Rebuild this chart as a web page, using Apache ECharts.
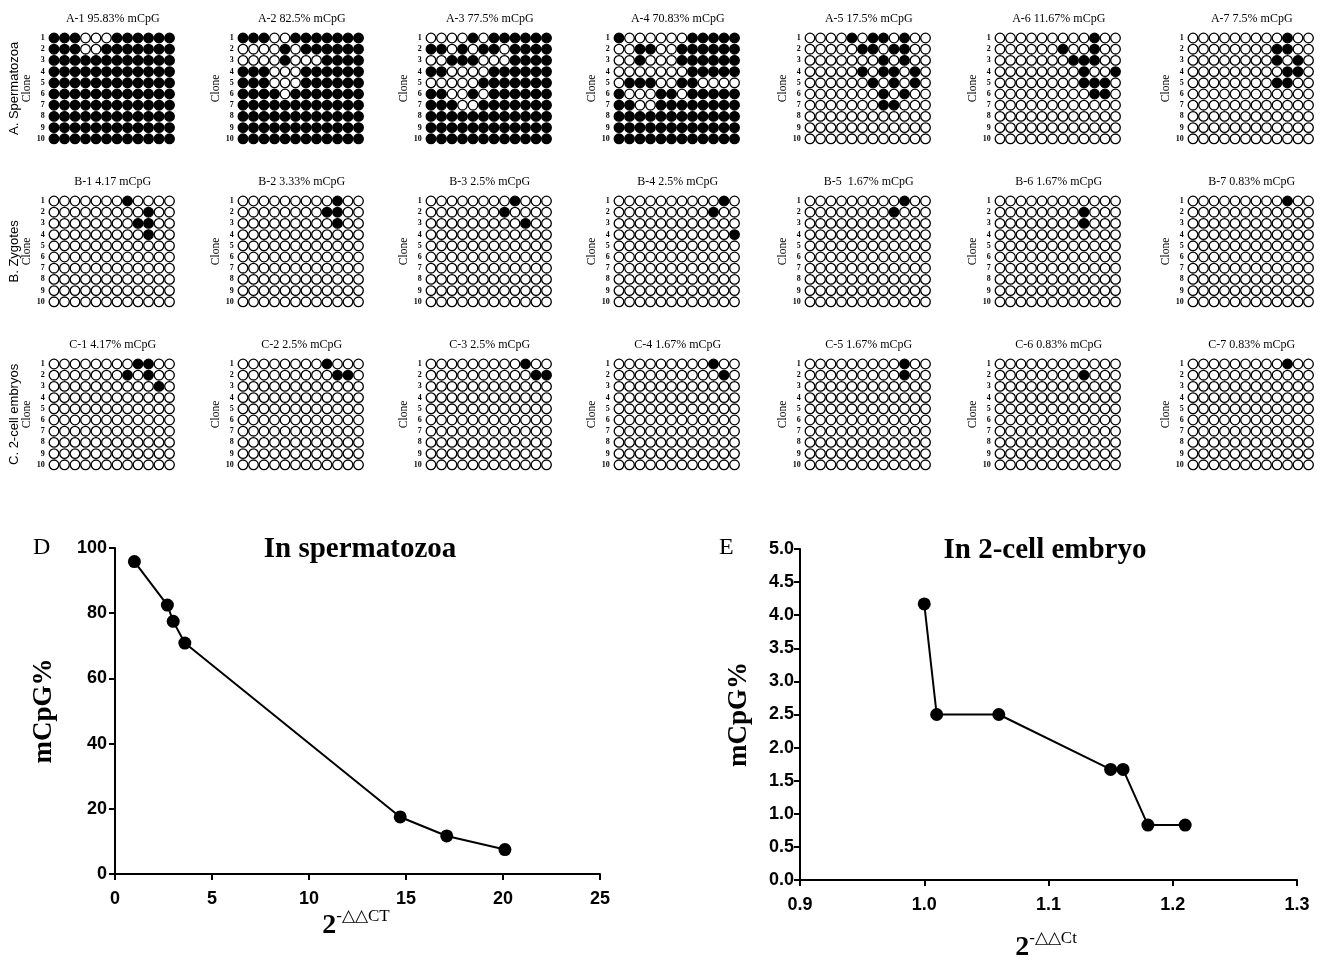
<!DOCTYPE html>
<html><head><meta charset="utf-8">
<script src="https://cdn.jsdelivr.net/npm/echarts@6/dist/echarts.min.js"></script>
<style>html,body{margin:0;background:#fff}#c{width:1323px;height:966px}</style>
</head><body><div id="c"></div><script>
// ---------- data ----------
const groupLabels = ['A. Spermatozoa', 'B. Zygotes', 'C. 2-cell embryos'];
const titlesA = ['A-1 95.83% mCpG','A-2 82.5% mCpG','A-3 77.5% mCpG','A-4 70.83% mCpG','A-5 17.5% mCpG','A-6 11.67% mCpG','A-7 7.5% mCpG'];
const titlesB = ['B-1 4.17 mCpG','B-2 3.33% mCpG','B-3 2.5% mCpG','B-4 2.5% mCpG','B-5  1.67% mCpG','B-6 1.67% mCpG','B-7 0.83% mCpG'];
const titlesC = ['C-1 4.17% mCpG','C-2 2.5% mCpG','C-3 2.5% mCpG','C-4 1.67% mCpG','C-5 1.67% mCpG','C-6 0.83% mCpG','C-7 0.83% mCpG'];
const clones = ['1','2','3','4','5','6','7','8','9','10'];
const cpgSites = ['1','2','3','4','5','6','7','8','9','10','11','12'];
// 1 = methylated (filled), 0 = unmethylated (open); rows = clones 1..10
const methA = [
 "111000111111 111001111111 111111111111 111111111111 111111111111 111111111111 111111111111 111111111111 111111111111 111111111111",
 "111001111111 000010111111 000010001111 111000111111 111000111111 111101111111 111111111111 111111111111 111111111111 111111111111",
 "000010111111 110101101111 001110001111 110000111111 000001111111 110010111111 111001111111 111111111111 111111111111 111111111111",
 "100000011111 001100111111 001000111111 000000011111 011100110000 100011011111 110011111111 111111111111 111111111111 111111111111",
 "000010110100 000001101100 000000010100 000001011010 000000101010 000000010100 000000011000 000000000000 000000000000 000000000000",
 "000000000100 000000100100 000000011100 000000001001 000000001110 000000000110 000000000000 000000000000 000000000000 000000000000",
 "000000000100 000000001100 000000001010 000000000110 000000001100 000000000000 000000000000 000000000000 000000000000 000000000000"
];
const methB = [
 "000000010000 000000000100 000000001100 000000000100 000000000000 000000000000 000000000000 000000000000 000000000000 000000000000",
 "000000000100 000000001100 000000000100 000000000000 000000000000 000000000000 000000000000 000000000000 000000000000 000000000000",
 "000000001000 000000010000 000000000100 000000000000 000000000000 000000000000 000000000000 000000000000 000000000000 000000000000",
 "000000000010 000000000100 000000000000 000000000001 000000000000 000000000000 000000000000 000000000000 000000000000 000000000000",
 "000000000100 000000001000 000000000000 000000000000 000000000000 000000000000 000000000000 000000000000 000000000000 000000000000",
 "000000000000 000000001000 000000001000 000000000000 000000000000 000000000000 000000000000 000000000000 000000000000 000000000000",
 "000000000100 000000000000 000000000000 000000000000 000000000000 000000000000 000000000000 000000000000 000000000000 000000000000"
];
const methC = [
 "000000001100 000000010100 000000000010 000000000000 000000000000 000000000000 000000000000 000000000000 000000000000 000000000000",
 "000000001000 000000000110 000000000000 000000000000 000000000000 000000000000 000000000000 000000000000 000000000000 000000000000",
 "000000000100 000000000011 000000000000 000000000000 000000000000 000000000000 000000000000 000000000000 000000000000 000000000000",
 "000000000100 000000000010 000000000000 000000000000 000000000000 000000000000 000000000000 000000000000 000000000000 000000000000",
 "000000000100 000000000100 000000000000 000000000000 000000000000 000000000000 000000000000 000000000000 000000000000 000000000000",
 "000000000000 000000001000 000000000000 000000000000 000000000000 000000000000 000000000000 000000000000 000000000000 000000000000",
 "000000000100 000000000000 000000000000 000000000000 000000000000 000000000000 000000000000 000000000000 000000000000 000000000000"
];
const spermX = [1.0, 2.7, 3.0, 3.6, 14.7, 17.1, 20.1];
const spermY = [95.83, 82.5, 77.5, 70.83, 17.5, 11.67, 7.5];
const embryoX = [1.00, 1.01, 1.06, 1.15, 1.16, 1.18, 1.21];
const embryoY = [4.17, 2.5, 2.5, 1.67, 1.67, 0.83, 0.83];
const spermXTicks = {min: 0, max: 25, interval: 5};
const spermYTicks = {min: 0, max: 100, interval: 20};
const embryoXTicks = {min: 0.9, max: 1.3, interval: 0.1};
const embryoYTicks = {min: 0, max: 5, interval: 0.5};

// ---------- layout ----------
const colX = [54, 243, 431, 619, 810, 1000, 1193]; // first circle centre
const rowY = [38, 201, 364];                        // first clone row centre
const pX = 10.5, pY = 11.2;
const serif = '"Liberation Serif","Times New Roman",serif';
const sans = '"Liberation Sans",Arial,sans-serif';

const grids = [], xAxes = [], yAxes = [], series = [], titles = [], graphics = [];
const groups = [[titlesA, methA], [titlesB, methB], [titlesC, methC]];
groups.forEach(([tt, mm], g) => {
  mm.forEach((pat, p) => {
    const idx = grids.length;
    const left = colX[p] - pX / 2, top = rowY[g] - pY / 2;
    grids.push({left: left, top: top, width: 12 * pX, height: 10 * pY});
    xAxes.push({type: 'category', gridIndex: idx, data: cpgSites, show: false});
    yAxes.push({type: 'category', gridIndex: idx, data: clones, inverse: true,
      axisLine: {show: false}, axisTick: {show: false}, splitLine: {show: false},
      axisLabel: {fontFamily: serif, fontWeight: 'bold', fontSize: 8, color: '#000', margin: 4},
      name: 'Clone', nameLocation: 'middle', nameGap: 14,
      nameTextStyle: {fontFamily: serif, fontSize: 11.5, color: '#000'}});
    const data = [];
    pat.split(' ').forEach((row, r) => {
      row.split('').forEach((c, k) => data.push([k, r, +c]));
    });
    series.push({type: 'scatter', xAxisIndex: idx, yAxisIndex: idx, data: data,
      symbol: 'circle', symbolSize: 9.6, silent: true,
      itemStyle: {color: p => p.data[2] ? '#000' : '#fff', borderColor: '#000', borderWidth: 1.3, opacity: 1}});
    titles.push({text: tt[p], left: colX[p] + 5.5 * pX - 4, top: rowY[g] - 30, textAlign: 'center',
      textStyle: {fontFamily: serif, fontWeight: 'normal', fontSize: 12, color: '#000'}});
  });
  graphics.push({type: 'text', x: 14, y: rowY[g] + 4.5 * pY, rotation: Math.PI / 2,
    style: {text: groupLabels[g], font: '13px ' + sans, fill: '#000', textAlign: 'center', textVerticalAlign: 'middle'}});
});

// ---------- bottom line charts ----------
const axisCommon = {
  axisLine: {lineStyle: {color: '#000', width: 2}},
  axisTick: {show: true, length: 6, inside: false, lineStyle: {color: '#000', width: 2}},
  splitLine: {show: false},
  axisLabel: {fontFamily: sans, fontWeight: 'bold', fontSize: 18, color: '#000'}
};
const gD = grids.length;
grids.push({left: 115, top: 548, width: 485, height: 326});
xAxes.push(Object.assign({type: 'value', gridIndex: gD}, spermXTicks, axisCommon,
  {axisLabel: Object.assign({}, axisCommon.axisLabel, {margin: 16})}));
yAxes.push(Object.assign({type: 'value', gridIndex: gD}, spermYTicks, axisCommon,
  {axisLabel: Object.assign({}, axisCommon.axisLabel, {margin: 8}),
   name: 'mCpG%', nameLocation: 'middle', nameGap: 57,
   nameTextStyle: {fontFamily: serif, fontWeight: 'bold', fontSize: 27, color: '#000'}}));
series.push({type: 'line', xAxisIndex: gD, yAxisIndex: gD, data: spermX.map((x, i) => [x, spermY[i]]),
  symbol: 'circle', symbolSize: 13, lineStyle: {color: '#000', width: 2}, itemStyle: {color: '#000'}});

const gE = grids.length;
grids.push({left: 800, top: 549, width: 497, height: 331});
xAxes.push(Object.assign({type: 'value', gridIndex: gE}, embryoXTicks, axisCommon,
  {axisLabel: Object.assign({}, axisCommon.axisLabel, {margin: 16, formatter: v => v.toFixed(1)})}));
yAxes.push(Object.assign({type: 'value', gridIndex: gE}, embryoYTicks, axisCommon,
  {axisLabel: Object.assign({}, axisCommon.axisLabel, {margin: 6, formatter: v => v.toFixed(1)}),
   name: 'mCpG%', nameLocation: 'middle', nameGap: 47,
   nameTextStyle: {fontFamily: serif, fontWeight: 'bold', fontSize: 27, color: '#000'}}));
series.push({type: 'line', xAxisIndex: gE, yAxisIndex: gE, data: embryoX.map((x, i) => [x, embryoY[i]]),
  symbol: 'circle', symbolSize: 13, lineStyle: {color: '#000', width: 2}, itemStyle: {color: '#000'}});

titles.push({text: 'In spermatozoa', left: 355, top: 530, textAlign: 'center',
  textStyle: {fontFamily: serif, fontWeight: 'bold', fontSize: 29, color: '#000'}});
titles.push({text: 'In 2-cell embryo', left: 1040, top: 531, textAlign: 'center',
  textStyle: {fontFamily: serif, fontWeight: 'bold', fontSize: 29, color: '#000'}});
titles.push({text: 'D', left: 28, top: 531, textStyle: {fontFamily: serif, fontWeight: 'normal', fontSize: 24, color: '#000'}});
titles.push({text: 'E', left: 714, top: 531, textStyle: {fontFamily: serif, fontWeight: 'normal', fontSize: 24, color: '#000'}});

function powText(x, y, sup) {
  return {type: 'text', x: x, y: y,
    style: {rich: {b: {font: 'bold 28px ' + serif, fill: '#000', verticalAlign: 'bottom'},
                   s: {font: '17px ' + serif, fill: '#000', verticalAlign: 'top', padding: [0, 0, 14, 0]}},
            text: '{b|2}{s|' + sup + '}', textAlign: 'center', textVerticalAlign: 'middle'}};
}
graphics.push(powText(356, 924, '-△△CT'));
graphics.push(powText(1046, 946, '-△△Ct'));

const chart = echarts.init(document.getElementById('c'), null, {renderer: 'canvas'});
chart.setOption({animation: false, backgroundColor: '#fff', title: titles, grid: grids,
  xAxis: xAxes, yAxis: yAxes, series: series, graphic: graphics});
</script></body></html>
